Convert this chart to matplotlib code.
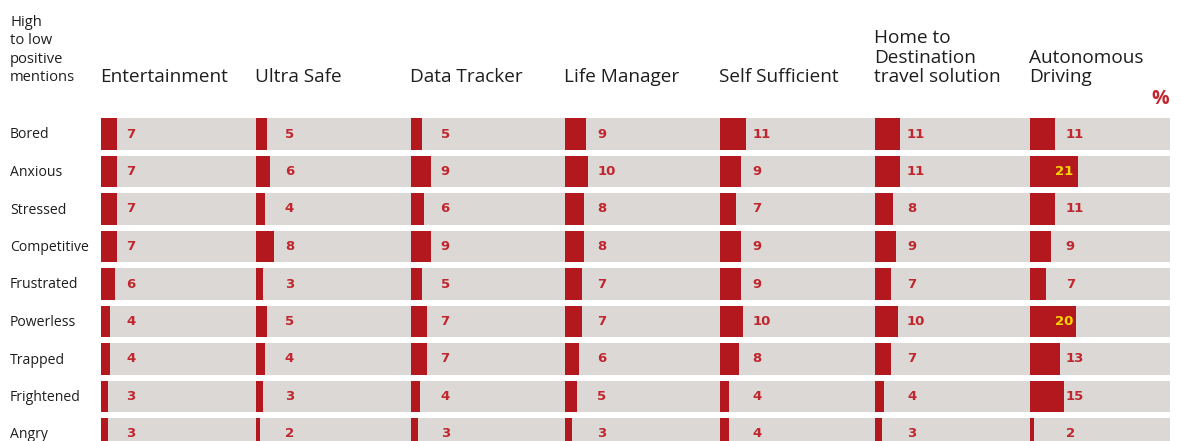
import matplotlib
matplotlib.use("Agg")
import matplotlib.pyplot as plt
from matplotlib.patches import Rectangle

# ---------------- data ----------------
emotions = ["Bored", "Anxious", "Stressed", "Competitive", "Frustrated",
            "Powerless", "Trapped", "Frightened", "Angry"]
concepts = ["Entertainment", "Ultra Safe", "Data Tracker", "Life Manager",
            "Self Sufficient", "Home to\nDestination\ntravel solution",
            "Autonomous\nDriving"]
entertainment = [7, 7, 7, 7, 6, 4, 4, 3, 3]
ultra_safe = [5, 6, 4, 8, 3, 5, 4, 3, 2]
data_tracker = [5, 9, 6, 9, 5, 7, 7, 4, 3]
life_manager = [9, 10, 8, 8, 7, 7, 6, 5, 3]
self_sufficient = [11, 9, 7, 9, 9, 10, 8, 4, 4]
home_to_destination = [11, 11, 8, 9, 7, 10, 7, 4, 3]
autonomous_driving = [11, 21, 11, 9, 7, 20, 13, 15, 2]
series = [entertainment, ultra_safe, data_tracker, life_manager,
          self_sufficient, home_to_destination, autonomous_driving]
side_title = "High\nto low\npositive\nmentions"
unit_label = "%"

# ---------------- style / layout ----------------
W, H = 1181, 441
RED = "#B3181F"
LABEL_RED = "#C0262D"
GRAY = "#DCD8D6"
YELLOW = "#FFD400"
TEXT = "#1E1E1E"
PX_PER_UNIT = 2.3
COL_PX = 154.8
AX_LEFT_PX, AX_RIGHT_PX = 101, 1170
ROW_PITCH_PX = 37.5
ROW0_CENTER_PX = 134
BAND_H = 31.5 / ROW_PITCH_PX
LABEL_OFFSET_PX = [25, 29, 30, 32, 32, 32, 36]
INSIDE_OFFSET_PX = 25
HEAD_FONT = ["Open Sans", "DejaVu Sans"]

fig = plt.figure(figsize=(W / 100, H / 100), dpi=100)
fig.patch.set_facecolor("white")


def fx(px):
    return px / W


def fy(py):
    return 1 - py / H


top_px = ROW0_CENTER_PX - ROW_PITCH_PX / 2
ax = fig.add_axes([fx(AX_LEFT_PX), 0, fx(AX_RIGHT_PX - AX_LEFT_PX),
                   (H - top_px) / H])
x_total = (AX_RIGHT_PX - AX_LEFT_PX) / PX_PER_UNIT
col_units = COL_PX / PX_PER_UNIT
ax.set_xlim(0, x_total)
ax.set_ylim(-0.5 + (H - top_px) / ROW_PITCH_PX, -0.5)
ax.axis("off")

n_rows = len(emotions)
# gray background bands
for r in range(n_rows):
    ax.add_patch(Rectangle((0, r - BAND_H / 2), x_total, BAND_H,
                           facecolor=GRAY, edgecolor="none", zorder=1))

for c, vals in enumerate(series):
    x0 = c * col_units
    ax.barh(range(n_rows), vals, left=x0, height=BAND_H, color=RED,
            edgecolor="none", zorder=2)
    for r, v in enumerate(vals):
        if v >= 20:
            ax.text(x0 + INSIDE_OFFSET_PX / PX_PER_UNIT, r, str(v),
                    color=YELLOW, fontsize=9.5, fontweight="bold",
                    ha="left", va="center", zorder=3)
        else:
            ax.text(x0 + LABEL_OFFSET_PX[c] / PX_PER_UNIT, r, str(v),
                    color=LABEL_RED, fontsize=9.5, fontweight="bold",
                    ha="left", va="center", zorder=3)

# column headers
for c, name in enumerate(concepts):
    x_px = AX_LEFT_PX + c * COL_PX
    fig.text(fx(x_px - 1), fy(82), name, family=HEAD_FONT, fontsize=13.7,
             color=TEXT, ha="left", va="baseline", linespacing=1.1)

# side title
fig.text(fx(10), fy(81), side_title, family=HEAD_FONT, fontsize=10.6,
         color=TEXT, ha="left", va="baseline", linespacing=1.3)

# row labels
for r, name in enumerate(emotions):
    y_px = ROW0_CENTER_PX + r * ROW_PITCH_PX
    fig.text(fx(10), fy(y_px + 1), name, family=HEAD_FONT, fontsize=10.1,
             color=TEXT, ha="left", va="center")

# unit
fig.text(fx(1169), fy(104), unit_label, family=HEAD_FONT, fontsize=14,
         fontweight="bold", color=LABEL_RED, ha="right", va="baseline")

fig.savefig("out.png", dpi=100)
